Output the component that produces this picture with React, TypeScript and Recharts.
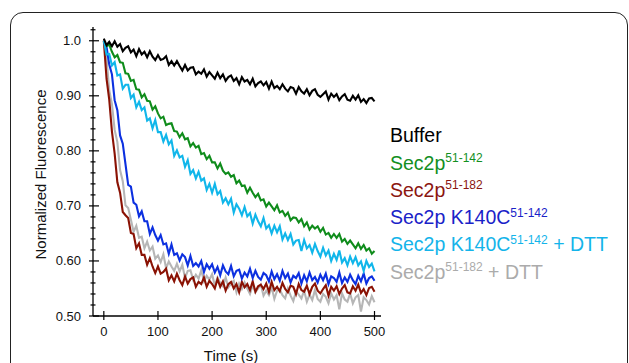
import React from 'react';
import { LineChart, Line, XAxis, YAxis, Label } from 'recharts';

const FONT = '"Liberation Sans", Arial, Helvetica, sans-serif';

// sampling times (s)
const TIME = [
  0, 5, 10, 15, 20, 25, 30, 35, 40, 45,
  50, 55, 60, 65, 70, 75, 80, 85, 90, 95,
  100, 105, 110, 115, 120, 125, 130, 135, 140, 145,
  150, 155, 160, 165, 170, 175, 180, 185, 190, 195,
  200, 205, 210, 215, 220, 225, 230, 235, 240, 245,
  250, 255, 260, 265, 270, 275, 280, 285, 290, 295,
  300, 305, 310, 315, 320, 325, 330, 335, 340, 345,
  350, 355, 360, 365, 370, 375, 380, 385, 390, 395,
  400, 405, 410, 415, 420, 425, 430, 435, 440, 445,
  450, 455, 460, 465, 470, 475, 480, 485, 490, 495,
  500,
];

const BUFFER = [
  1.004, 0.992, 0.998, 0.990, 0.999, 0.989, 0.994, 0.981, 0.987, 0.990,
  0.979, 0.984, 0.972, 0.985, 0.975, 0.980, 0.970, 0.981, 0.971, 0.965,
  0.974, 0.965, 0.967, 0.972, 0.956, 0.963, 0.955, 0.963, 0.954, 0.946,
  0.956, 0.946, 0.951, 0.952, 0.939, 0.944, 0.940, 0.948, 0.935, 0.943,
  0.937, 0.931, 0.942, 0.932, 0.939, 0.927, 0.934, 0.937, 0.927, 0.932,
  0.921, 0.934, 0.926, 0.929, 0.921, 0.931, 0.917, 0.923, 0.926, 0.919,
  0.925, 0.913, 0.926, 0.914, 0.918, 0.912, 0.921, 0.913, 0.908, 0.916,
  0.914, 0.904, 0.916, 0.908, 0.904, 0.912, 0.901, 0.909, 0.912, 0.902,
  0.898, 0.903, 0.908, 0.893, 0.904, 0.898, 0.903, 0.892, 0.899, 0.903,
  0.893, 0.891, 0.900, 0.893, 0.901, 0.889, 0.894, 0.887, 0.895, 0.896,
  0.890,
];

const SEC2P_142 = [
  1.000, 0.990, 0.993, 0.980, 0.970, 0.974, 0.961, 0.960, 0.941, 0.940,
  0.927, 0.929, 0.912, 0.911, 0.897, 0.903, 0.891, 0.890, 0.875, 0.881,
  0.868, 0.859, 0.862, 0.847, 0.849, 0.850, 0.836, 0.835, 0.825, 0.832,
  0.821, 0.823, 0.808, 0.814, 0.806, 0.809, 0.794, 0.796, 0.785, 0.791,
  0.779, 0.779, 0.768, 0.777, 0.764, 0.758, 0.761, 0.753, 0.756, 0.741,
  0.746, 0.736, 0.737, 0.724, 0.733, 0.724, 0.716, 0.722, 0.710, 0.712,
  0.699, 0.706, 0.699, 0.692, 0.701, 0.688, 0.691, 0.682, 0.688, 0.674,
  0.679, 0.678, 0.670, 0.676, 0.663, 0.670, 0.657, 0.664, 0.659, 0.663,
  0.653, 0.660, 0.648, 0.651, 0.642, 0.649, 0.642, 0.649, 0.635, 0.640,
  0.631, 0.637, 0.630, 0.623, 0.632, 0.622, 0.629, 0.619, 0.623, 0.613,
  0.618,
];

const SEC2P_182 = [
  1.000, 0.931, 0.893, 0.835, 0.795, 0.743, 0.724, 0.689, 0.683, 0.678,
  0.651, 0.649, 0.623, 0.632, 0.611, 0.611, 0.593, 0.605, 0.590, 0.578,
  0.590, 0.577, 0.580, 0.586, 0.565, 0.574, 0.563, 0.577, 0.565, 0.556,
  0.572, 0.559, 0.567, 0.570, 0.553, 0.562, 0.558, 0.570, 0.553, 0.564,
  0.558, 0.550, 0.567, 0.553, 0.563, 0.546, 0.558, 0.562, 0.550, 0.558,
  0.543, 0.562, 0.552, 0.558, 0.547, 0.563, 0.544, 0.554, 0.557, 0.549,
  0.559, 0.544, 0.562, 0.547, 0.553, 0.545, 0.560, 0.549, 0.543, 0.555,
  0.553, 0.540, 0.558, 0.547, 0.544, 0.555, 0.540, 0.553, 0.559, 0.546,
  0.541, 0.549, 0.556, 0.537, 0.553, 0.546, 0.554, 0.540, 0.550, 0.556,
  0.543, 0.541, 0.554, 0.546, 0.557, 0.542, 0.549, 0.538, 0.551, 0.553,
  0.544,
];

const K140C_142 = [
  1.000, 0.989, 0.957, 0.939, 0.892, 0.874, 0.828, 0.813, 0.776, 0.738,
  0.735, 0.706, 0.702, 0.681, 0.690, 0.672, 0.672, 0.649, 0.661, 0.647,
  0.637, 0.647, 0.630, 0.632, 0.613, 0.630, 0.611, 0.614, 0.601, 0.612,
  0.607, 0.592, 0.609, 0.591, 0.596, 0.590, 0.600, 0.580, 0.594, 0.586,
  0.594, 0.579, 0.589, 0.574, 0.592, 0.581, 0.576, 0.591, 0.572, 0.582,
  0.584, 0.568, 0.579, 0.572, 0.586, 0.569, 0.582, 0.571, 0.566, 0.578,
  0.574, 0.563, 0.581, 0.567, 0.576, 0.564, 0.582, 0.569, 0.577, 0.561,
  0.573, 0.569, 0.578, 0.559, 0.574, 0.563, 0.579, 0.565, 0.571, 0.561,
  0.575, 0.565, 0.577, 0.558, 0.572, 0.569, 0.562, 0.579, 0.560, 0.570,
  0.562, 0.575, 0.565, 0.558, 0.573, 0.563, 0.577, 0.559, 0.569, 0.572,
  0.564,
];

const K140C_142_DTT = [
  1.000, 0.975, 0.976, 0.955, 0.961, 0.937, 0.939, 0.913, 0.920, 0.920,
  0.896, 0.902, 0.879, 0.889, 0.874, 0.879, 0.855, 0.859, 0.841, 0.856,
  0.834, 0.834, 0.817, 0.829, 0.812, 0.819, 0.791, 0.801, 0.788, 0.791,
  0.771, 0.783, 0.758, 0.765, 0.750, 0.762, 0.746, 0.750, 0.729, 0.740,
  0.724, 0.740, 0.721, 0.727, 0.706, 0.714, 0.703, 0.713, 0.688, 0.703,
  0.695, 0.683, 0.698, 0.681, 0.687, 0.668, 0.684, 0.672, 0.663, 0.678,
  0.659, 0.665, 0.650, 0.664, 0.652, 0.663, 0.639, 0.650, 0.638, 0.649,
  0.630, 0.637, 0.638, 0.618, 0.638, 0.623, 0.629, 0.615, 0.631, 0.618,
  0.608, 0.624, 0.610, 0.619, 0.600, 0.613, 0.602, 0.619, 0.597, 0.605,
  0.592, 0.608, 0.596, 0.607, 0.592, 0.599, 0.582, 0.600, 0.589, 0.595,
  0.581,
];

const SEC2P_182_DTT = [
  1.000, 0.968, 0.910, 0.885, 0.838, 0.816, 0.765, 0.745, 0.701, 0.696,
  0.675, 0.653, 0.664, 0.642, 0.644, 0.623, 0.635, 0.619, 0.626, 0.604,
  0.610, 0.598, 0.612, 0.587, 0.599, 0.590, 0.582, 0.595, 0.581, 0.593,
  0.569, 0.582, 0.583, 0.566, 0.575, 0.568, 0.583, 0.563, 0.573, 0.566,
  0.576, 0.555, 0.570, 0.560, 0.554, 0.570, 0.552, 0.559, 0.564, 0.543,
  0.559, 0.549, 0.561, 0.550, 0.540, 0.556, 0.543, 0.550, 0.557, 0.537,
  0.546, 0.538, 0.552, 0.531, 0.546, 0.548, 0.538, 0.532, 0.550, 0.537,
  0.527, 0.545, 0.539, 0.532, 0.546, 0.526, 0.539, 0.529, 0.547, 0.531,
  0.526, 0.540, 0.535, 0.523, 0.541, 0.530, 0.538, 0.512, 0.541, 0.530,
  0.526, 0.541, 0.523, 0.534, 0.538, 0.508, 0.534, 0.529, 0.521, 0.536,
  0.525,
];

const X_TICKS = [0, 100, 200, 300, 400, 500];
const Y_TICKS = [
  0.5, 0.52, 0.54, 0.56, 0.58, 0.6, 0.62, 0.64, 0.66, 0.68, 0.7, 0.72, 0.74,
  0.76, 0.78, 0.8, 0.82, 0.84, 0.86, 0.88, 0.9, 0.92, 0.94, 0.96, 0.98, 1.0, 1.02,
];

// drawing order (back to front)
const SERIES = [
  { key: 'sec182dtt', color: '#b6b6b6', values: SEC2P_182_DTT },
  { key: 'sec182', color: '#8a1204', values: SEC2P_182 },
  { key: 'k140c', color: '#0c30e0', values: K140C_142 },
  { key: 'sec142', color: '#0f8c1b', values: SEC2P_142 },
  { key: 'k140cdtt', color: '#10b6ea', values: K140C_142_DTT },
  { key: 'buffer', color: '#000000', values: BUFFER },
];

const LEGEND = [
  { name: 'Buffer', sup: '', suffix: '', color: '#000000' },
  { name: 'Sec2p', sup: '51-142', suffix: '', color: '#138f1f' },
  { name: 'Sec2p', sup: '51-182', suffix: '', color: '#8b1610' },
  { name: 'Sec2p K140C', sup: '51-142', suffix: '', color: '#1a22c8' },
  { name: 'Sec2p K140C', sup: '51-142', suffix: ' + DTT', color: '#14b4ea' },
  { name: 'Sec2p', sup: '51-182', suffix: ' + DTT', color: '#ababab' },
];

const chartData = TIME.map((t, i) => {
  const row: Record<string, number> = { t };
  SERIES.forEach((s) => {
    row[s.key] = s.values[i];
  });
  return row;
});

function YTick({ x, y, payload }: any) {
  const v = payload.value as number;
  const major = Math.round(v * 100) % 10 === 0;
  const label = v === 1 ? '1.0' : v.toFixed(2);
  return (
    <g>
      <line
        x1={major ? x - 4 : x - 2.5}
        x2={major ? x + 6 : x + 2.5}
        y1={y}
        y2={y}
        stroke="#000"
        strokeWidth={1.2}
      />
      {major && (
        <text x={x - 12} y={y} dy={4.5} textAnchor="end" fontSize={13} fill="#111" fontFamily={FONT}>
          {label}
        </text>
      )}
    </g>
  );
}

function XTick({ x, y, payload }: any) {
  return (
    <g>
      <line x1={x} x2={x} y1={y - 5} y2={y + 4} stroke="#000" strokeWidth={1.2} />
      <text x={x} y={y} dy={19.5} textAnchor="middle" fontSize={13} fill="#111" fontFamily={FONT}>
        {payload.value}
      </text>
    </g>
  );
}

export default function App() {
  return (
    <div
      style={{
        position: 'absolute',
        left: 0,
        top: 0,
        width: 629,
        height: 363,
        overflow: 'hidden',
        background: '#fff',
        fontFamily: FONT,
      }}
    >
      {/* rounded panel frame */}
      <div
        style={{
          position: 'absolute',
          left: 9.5,
          top: 12,
          width: 618,
          height: 420,
          border: '1.4px solid #222',
          borderRadius: 13,
          boxSizing: 'border-box',
        }}
      />
      <div style={{ position: 'absolute', left: 0, top: 0 }}>
        <LineChart width={629} height={363} data={chartData} margin={{ top: 27, right: 248, bottom: 17, left: 9 }}>
          <XAxis
            dataKey="t"
            type="number"
            domain={[-20, 512]}
            ticks={X_TICKS}
            interval={0}
            height={30}
            tickSize={0}
            tickMargin={0}
            tick={<XTick />}
            axisLine={{ stroke: '#000', strokeWidth: 1.3 }}
            tickLine={false}
          >
            <Label
              content={({ viewBox }: any) => (
                <text
                  x={viewBox.x + viewBox.width / 2 - 6}
                  y={viewBox.y + 44.5}
                  textAnchor="middle"
                  fontSize={15}
                  fill="#111"
                  fontFamily={FONT}
                >
                  Time (s)
                </text>
              )}
            />
          </XAxis>
          <YAxis
            type="number"
            domain={[0.5, 1.025]}
            ticks={Y_TICKS}
            interval={0}
            width={84}
            tickSize={0}
            tickMargin={0}
            tick={<YTick />}
            axisLine={{ stroke: '#000', strokeWidth: 1.3 }}
            tickLine={false}
            allowDataOverflow
          >
            <Label
              content={({ viewBox }: any) => {
                const cx = viewBox.x + 37;
                const cy = viewBox.y + viewBox.height / 2 + 3;
                return (
                  <text
                    x={cx}
                    y={cy}
                    textAnchor="middle"
                    fontSize={15}
                    fill="#111"
                    fontFamily={FONT}
                    transform={`rotate(-90, ${cx}, ${cy})`}
                  >
                    Normalized Fluorescence
                  </text>
                );
              }}
            />
          </YAxis>
          {SERIES.map((s) => (
            <Line
              key={s.key}
              dataKey={s.key}
              type="linear"
              stroke={s.color}
              strokeWidth={2.1}
              dot={false}
              isAnimationActive={false}
            />
          ))}
        </LineChart>
      </div>
      <div style={{ position: 'absolute', left: 390, top: 122.3, fontSize: 19.5, lineHeight: '27.3px' }}>
        {LEGEND.map((item, i) => (
          <div key={i} style={{ color: item.color, whiteSpace: 'nowrap', height: 27.3 }}>
            {item.name}
            {item.sup && (
              <span style={{ fontSize: 12, position: 'relative', top: -7.5 }}>{item.sup}</span>
            )}
            {item.suffix}
          </div>
        ))}
      </div>
    </div>
  );
}
